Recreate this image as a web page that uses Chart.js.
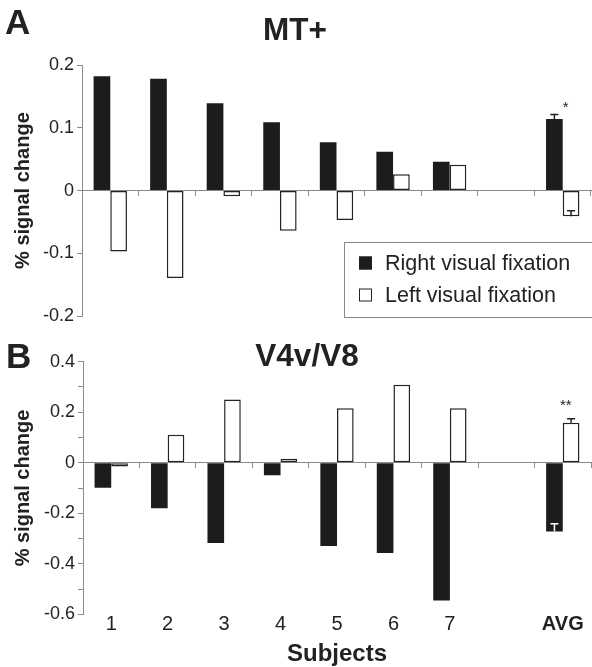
<!DOCTYPE html>
<html>
<head>
<meta charset="utf-8">
<title>MT+ / V4v/V8</title>
<script src="https://cdn.jsdelivr.net/npm/chart.js@4.4.1/dist/chart.umd.min.js"></script>
<style>
  html, body { margin:0; padding:0; background:#fff; }
  #wrap { width:592px; height:667px; }
  canvas { display:block; }
</style>
</head>
<body>
<div id="wrap">
  <canvas id="chartA" width="592" height="330"></canvas>
  <canvas id="chartB" width="592" height="337"></canvas>
</div>
<script>
// categories (index 7 is the empty gap before the average)
const subjects = ['1', '2', '3', '4', '5', '6', '7', '', 'AVG'];
const seriesNames = ['Right visual fixation', 'Left visual fixation'];

// A: MT+
const mtRight = [0.182, 0.178, 0.139, 0.109, 0.077, 0.062, 0.046, null, 0.114];
const mtLeft = [-0.097, -0.139, -0.009, -0.064, -0.047, 0.026, 0.041, null, -0.041];
const mtRightErr = [null, null, null, null, null, null, null, null, 0.007];
const mtLeftErr = [null, null, null, null, null, null, null, null, 0.009];
const mtSig = ['', '', '', '', '', '', '', '', '*'];
const mtTicks = [-0.2, -0.1, 0, 0.1, 0.2];

// B: V4v/V8
const v4Right = [-0.099, -0.180, -0.318, -0.050, -0.330, -0.357, -0.545, null, -0.272];
const v4Left = [-0.015, 0.111, 0.250, 0.016, 0.216, 0.309, 0.216, null, 0.158];
const v4RightErr = [null, null, null, null, null, null, null, null, 0.030];
const v4LeftErr = [null, null, null, null, null, null, null, null, 0.016];
const v4Sig = ['', '', '', '', '', '', '', '', '**'];
const v4Ticks = [-0.6, -0.4, -0.2, 0, 0.2, 0.4];

const FONT = '"Liberation Sans", Arial, Helvetica, sans-serif';
const INK = '#222';
const AXIS = '#8a8a8a';
const BLACK = '#1c1c1c';

// error bars, significance stars, panel letters/titles, boxed legend
const decor = {
  id: 'decor',
  afterDatasetsDraw(chart, args, o) {
    const ctx = chart.ctx;
    const ys = chart.scales.y;
    ctx.save();
    ctx.lineWidth = 1.5;
    o.errors.forEach((errs, di) => {
      const meta = chart.getDatasetMeta(di);
      errs.forEach((e, i) => {
        if (e == null) return;
        const v = chart.data.datasets[di].data[i];
        const bar = meta.data[i];
        const p0 = ys.getPixelForValue(v);
        const p1 = ys.getPixelForValue(v + e);
        ctx.strokeStyle = v < 0 ? o.insideInk[di] : INK;
        ctx.beginPath();
        ctx.moveTo(bar.x, p0);
        ctx.lineTo(bar.x, p1);
        ctx.moveTo(bar.x - 4, p1);
        ctx.lineTo(bar.x + 4, p1);
        ctx.stroke();
      });
    });
    // stars above the highest mark of the category
    ctx.fillStyle = INK;
    ctx.font = '15px ' + FONT;
    ctx.textAlign = 'center';
    ctx.textBaseline = 'alphabetic';
    o.sig.forEach((s, i) => {
      if (!s) return;
      let top = 0;
      chart.data.datasets.forEach((ds, di) => {
        const v = ds.data[i];
        const e = o.errors[di][i] || 0;
        top = Math.max(top, v, v + e);
      });
      const x = chart.scales.x.getPixelForValue(i);
      ctx.fillText(s, x + 3, ys.getPixelForValue(top) - o.starGap);
    });
    ctx.restore();
  },
  afterDraw(chart, args, o) {
    const ctx = chart.ctx;
    ctx.save();
    ctx.fillStyle = INK;
    ctx.textBaseline = 'alphabetic';
    ctx.font = 'bold 35px ' + FONT;
    ctx.textAlign = 'left';
    ctx.fillText(o.letter.text, o.letter.x, o.letter.y);
    ctx.font = 'bold 31.5px ' + FONT;
    ctx.textAlign = 'center';
    ctx.fillText(o.title.text, o.title.x, o.title.y);
    if (o.legend) {
      const L = o.legend;
      ctx.strokeStyle = AXIS;
      ctx.lineWidth = 1;
      ctx.strokeRect(L.x + 0.5, L.y + 0.5, L.w, L.h);
      ctx.font = '21.5px ' + FONT;
      ctx.textAlign = 'left';
      ctx.textBaseline = 'middle';
      chart.data.datasets.forEach((ds, di) => {
        const cy = L.y + L.rowY[di];
        ctx.fillStyle = ds.backgroundColor;
        ctx.fillRect(L.x + 15, cy - 6.5, 13, 13);
        ctx.strokeStyle = INK;
        ctx.lineWidth = 1;
        ctx.strokeRect(L.x + 15.5, cy - 6, 12, 12);
        ctx.fillStyle = INK;
        ctx.fillText(ds.label, L.x + 41, cy + 1);
      });
    }
    ctx.restore();
  }
};

function datasets(right, left) {
  return [{
    label: seriesNames[0],
    data: right,
    backgroundColor: BLACK,
    borderWidth: 0
  }, {
    label: seriesNames[1],
    data: left,
    backgroundColor: '#ffffff',
    borderColor: INK,
    borderWidth: 1.5,
    borderSkipped: false
  }];
}

function yAxis(min, max, tickVals, width) {
  return {
    min: min,
    max: max,
    afterFit: s => { s.width = width; },
    afterBuildTicks: s => { s.ticks = [];
      for (let k = Math.round(min * 10); k <= Math.round(max * 10); k++) s.ticks.push({ value: k / 10 }); },
    ticks: {
      color: INK,
      padding: 3,
      font: { family: FONT, size: 18 },
      callback: v => {
        const r = Math.round(v * 10) / 10;
        return tickVals.some(t => Math.abs(t - r) < 1e-6) ? String(r) : '';
      }
    },
    grid: { drawOnChartArea: false, tickLength: 5, color: AXIS },
    border: { color: AXIS, width: 1 },
    title: {
      display: true,
      text: '% signal change',
      color: INK,
      font: { family: FONT, size: 20, weight: 'bold' },
      padding: { top: 11, bottom: 0 }
    }
  };
}

const zeroAxis = {
  type: 'category',
  labels: subjects,
  position: { y: 0 },
  grid: { drawOnChartArea: false, drawTicks: true, tickLength: 5, color: AXIS, offset: true },
  border: { color: AXIS, width: 1 },
  ticks: { display: false }
};

new Chart(document.getElementById('chartA'), {
  type: 'bar',
  data: { labels: subjects, datasets: datasets(mtRight, mtLeft) },
  plugins: [decor],
  options: {
    responsive: false,
    animation: false,
    layout: { padding: { top: 65, bottom: 12, left: 0, right: 1 } },
    datasets: { bar: { categoryPercentage: 0.59, barPercentage: 1.0 } },
    scales: {
      x: { display: false, grid: { offset: true } },
      x2: zeroAxis,
      y: yAxis(-0.2, 0.2, mtTicks, 82)
    },
    plugins: {
      legend: { display: false },
      tooltip: { enabled: false },
      decor: {
        errors: [mtRightErr, mtLeftErr],
        insideInk: ['#ffffff', INK],
        sig: mtSig,
        starGap: 3,
        letter: { text: 'A', x: 5, y: 34 },
        title: { text: 'MT+', x: 295, y: 40 },
        legend: { x: 344, y: 242, w: 260, h: 75, rowY: [21, 53] }
      }
    }
  }
});

new Chart(document.getElementById('chartB'), {
  type: 'bar',
  data: { labels: subjects, datasets: datasets(v4Right, v4Left) },
  plugins: [decor],
  options: {
    responsive: false,
    animation: false,
    layout: { padding: { top: 31.7, bottom: 0, left: 0, right: 1 } },
    datasets: { bar: { categoryPercentage: 0.59, barPercentage: 1.0 } },
    scales: {
      x: {
        afterFit: s => { s.height = 52.7; },
        grid: { display: false, drawTicks: false, offset: true },
        border: { display: false },
        ticks: {
          color: INK,
          padding: -2,
          maxRotation: 0,
          autoSkip: false,
          font: c => ({ family: FONT, size: 20, weight: subjects[c.index] === 'AVG' ? 'bold' : 'normal' })
        },
        title: {
          display: true,
          text: 'Subjects',
          color: INK,
          font: { family: FONT, size: 24, weight: 'bold' },
          padding: { top: 0, bottom: -2 }
        }
      },
      x2: zeroAxis,
      y: yAxis(-0.6, 0.4, v4Ticks, 83)
    },
    plugins: {
      legend: { display: false },
      tooltip: { enabled: false },
      decor: {
        errors: [v4RightErr, v4LeftErr],
        insideInk: ['#ffffff', INK],
        sig: v4Sig,
        starGap: 9,
        letter: { text: 'B', x: 6, y: 38 },
        title: { text: 'V4v/V8', x: 307, y: 36 },
        legend: null
      }
    }
  }
});
</script>
</body>
</html>
